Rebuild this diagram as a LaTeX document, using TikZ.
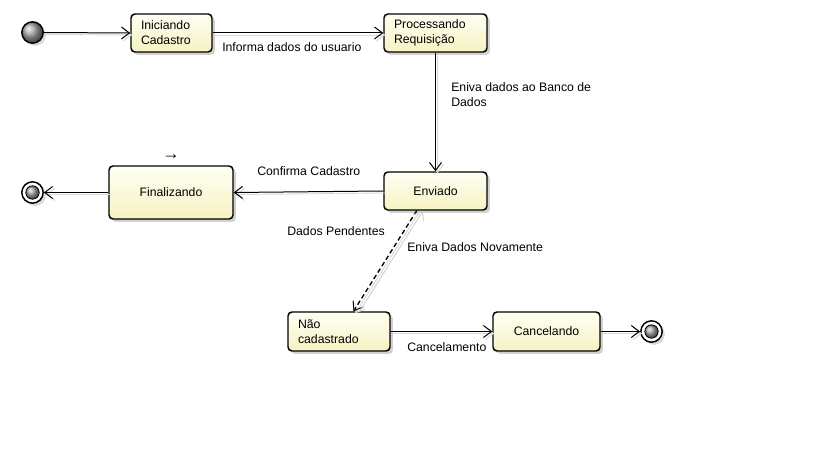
\documentclass[tikz,border=0pt]{standalone}
\usepackage{fontspec}
\setmainfont{Liberation Sans}
\usetikzlibrary{arrows.meta,shadows,calc}
\definecolor{boxlight}{HTML}{FFFFF4}
\definecolor{boxdark}{HTML}{F6F2C2}
\begin{document}
\begin{tikzpicture}[x=0.75pt,y=-0.75pt,
  every node/.style={font=\fontsize{9.2pt}{11.3pt}\selectfont},
  state/.style={draw=black, line width=1.1pt, rounded corners=3pt,
    top color=boxlight, bottom color=boxdark, minimum height=28.5pt,
    inner xsep=7.5pt, inner ysep=0pt,
    drop shadow={shadow xshift=2.2pt, shadow yshift=-2.2pt, fill=black, opacity=0.18}},
  conn/.style={draw=black, line width=0.75pt, -{Straight Barb[length=6pt,width=9pt,line width=0.75pt]},
    preaction={draw=gray!30, line width=0.7pt, transform canvas={shift={(1.5pt,-1.5pt)}}}},
  lbl/.style={inner sep=0pt, align=left},
  initst/.style={circle, draw=black, line width=1.1pt, minimum size=16pt, inner sep=0pt,
    ball color=gray!70, shading=ball,
    drop shadow={shadow xshift=2pt, shadow yshift=-2pt, fill=black, opacity=0.15}},
  finalst/.style={circle, draw=black, line width=1.1pt, minimum size=16pt, inner sep=0pt, fill=white,
    drop shadow={shadow xshift=2pt, shadow yshift=-2pt, fill=black, opacity=0.15}},
]
\useasboundingbox[fill=white] (0,0) rectangle (819,460);

% states
\node[initst] (init) at (32.5,32.5) {};
\node[state, text width=45.75pt, align=left] (ini) at (171.5,33) {Iniciando\\Cadastro};
\node[state, text width=62.25pt, align=left] (proc) at (435.5,33) {Processando\\Requisição};
\node[state, minimum width=77.25pt, align=center] (env) at (435.5,191) {Enviado};
\node[state, minimum width=93pt, minimum height=39.75pt, align=center] (fin) at (171,192.5) {Finalizando};
\node[state, text width=61.5pt, minimum height=29.25pt, align=left] (nao) at (339,331.5) {Não\\cadastrado};
\node[state, minimum width=80.25pt, minimum height=29.25pt, align=center] (canc) at (546.5,331.5) {Cancelando};

\node[finalst] (endL) at (32.5,192.5) {};
\fill[shading=ball, ball color=gray!70] (endL) circle (5pt);
\draw[line width=0.6pt] (endL) circle (5pt);
\node[finalst] (endR) at (651.5,331.5) {};
\fill[shading=ball, ball color=gray!70] (endR) circle (5pt);
\draw[line width=0.6pt] (endR) circle (5pt);

\node[lbl, font=\fontsize{13pt}{13pt}\selectfont\bfseries] (entry) at (171,157) {→};

% connectors
\draw[conn] (init.east) -- (ini.west);
\draw[conn] (ini.east) -- (proc.west);
\draw[conn] (proc.south) -- (env.north);
\draw[conn] (env.west) -- (fin.east);
\draw[conn] (fin.west) -- (endL.east);
\draw[conn, line width=1pt, dash pattern=on 3.5pt off 2.2pt] ($(env.south west)!0.32!(env.south east)$) -- ($(nao.north west)!0.64!(nao.north east)$);
\draw[draw=gray!35, line width=0.7pt, -{Straight Barb[length=6pt,width=9pt,line width=0.7pt]}]
  ($(nao.north west)!0.70!(nao.north east)$) -- ($(env.south west)!0.38!(env.south east)$);
\draw[conn] (nao.east) -- (canc.west);
\draw[conn] (canc.east) -- (endR.west);

% labels
\node[lbl, anchor=west] (l1) at (222,47) {Informa dados do usuario};
\node[lbl, anchor=north west] (l2) at (451,82) {Eniva dados ao Banco de\\Dados};
\node[lbl, anchor=west] (l3) at (257,171) {Confirma Cadastro};
\node[lbl, anchor=west] (l4) at (287,231) {Dados Pendentes};
\node[lbl, anchor=west] (l5) at (407,247) {Eniva Dados Novamente};
\node[lbl, anchor=west] (l6) at (407,347) {Cancelamento};
\end{tikzpicture}
\end{document}
